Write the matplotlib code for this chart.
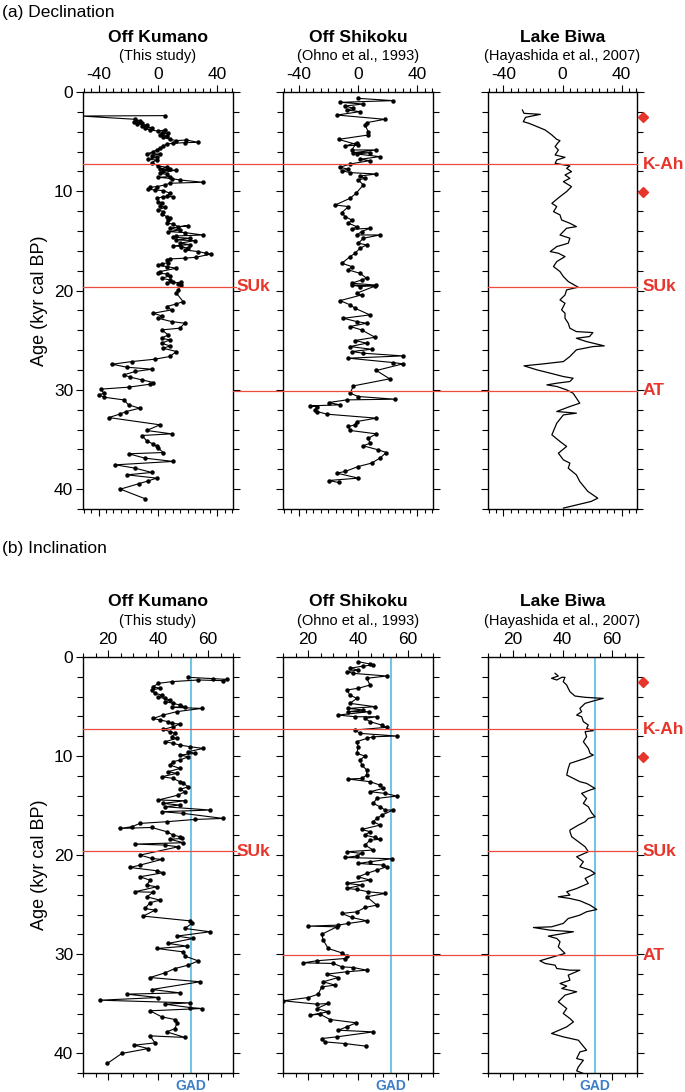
import matplotlib.pyplot as plt
import matplotlib.transforms as mtransforms
from matplotlib.lines import Line2D
from matplotlib.ticker import MultipleLocator

plt.rcParams['font.family'] = ['Liberation Sans', 'DejaVu Sans']
plt.rcParams['axes.unicode_minus'] = False

# ---- data: (value, age in kyr cal BP) ----
# Off Kumano declination
kum_dec_val = [4.7, -52, -15.3, -12.0, -16.4, -10.9, -14.2, -7.6, -10.9, -4.2, -8.7, -5.3, 0.2, 4.7, 2.4, 6.9,
               1.3, 5.8, 3.6, 8.0, 12.4, 19.1, 26.9, 18.0, 10.2, 5.8, 3.6, 1.3, -0.9, -3.1, -7.6, 1.3, -4.2,
               -0.9, -6.4, -0.9, -4.2, 0.2, 5.8, 1.3, 8.0, 3.6, 12.4, 1.3, 5.8, 8.0, 0.2, 9.1, 14.7, 30.2, 8.0,
               4.7, -0.9, -5.3, -6.4, -2.0, 3.6, 8.0, 5.8, 10.2, 3.6, -0.9, 0.2, 2.4, 1.3, 4.7, 0.2, 3.6, 2.4,
               5.8, 8.0, 6.9, 5.8, 10.2, 13.6, 20.2, 8.0, 14.7, 6.9, 18.0, 30.2, 12.4, 10.2, 21.3, 12.4, 24.7,
               14.7, 21.3, 10.2, 15.8, 20.2, 18.0, 26.9, 32.4, 35.8, 25.8, 18.0, 8.0, 5.8, 6.9, 2.4, 0.2, 5.8,
               12.4, 1.3, 0.2, 5.8, 8.0, 2.4, 8.0, 10.2, 5.8, 15.8, 13.6, 15.8, 13.6, 12.4, 16.9, 12.4, 5.8,
               9.1, -3.1, 2.4, 0.2, 9.1, 18.0, 14.7, 2.4, 6.9, 2.4, 8.0, 2.4, 8.0, 3.6, 12.4, 8.0, -2.0, -17.6,
               -30.9, -20.9, -4.2, -15.3, -23.1, -18.7, -10.9, -3.1, -5.3, -19.8, -38.7, -36.4, -39.8, -36.4,
               -23.1, -19.8, -12.4, -21.3, -25.3, -33.1, 1.3, -7.6, 9.1, -10.9, -7.6, -3.1, -0.9, 0.2, 3.6,
               -19.8, -8.7, 10.2, -28.7, -15.3, -4.2, -20.9, -0.9, -6.4, -13.1, -25.3, -8.7]
kum_dec_age = [2.38, 2.42, 2.75, 2.89, 3.02, 3.09, 3.22, 3.32, 3.42, 3.59, 3.66, 3.83, 3.93, 3.83, 4.09, 4.16,
               4.33, 4.43, 4.56, 4.77, 4.90, 4.83, 5.07, 5.10, 5.17, 5.23, 5.44, 5.67, 5.84, 6.01, 6.24, 6.24,
               6.44, 6.58, 6.78, 6.85, 7.11, 7.45, 7.58, 7.79, 7.79, 7.92, 7.85, 8.19, 8.29, 8.52, 8.59, 8.72,
               8.86, 9.09, 9.19, 9.36, 9.53, 9.60, 9.80, 9.87, 9.93, 10.20, 10.47, 10.54, 10.54, 10.70, 11.04,
               11.21, 11.48, 11.61, 11.88, 12.05, 12.28, 12.55, 12.72, 12.89, 13.22, 13.29, 13.56, 13.46, 13.72,
               13.89, 14.06, 14.16, 14.40, 14.50, 14.63, 14.73, 14.90, 14.97, 15.23, 15.37, 15.50, 15.57, 15.74,
               15.91, 16.07, 16.24, 16.31, 16.64, 16.74, 16.81, 16.91, 17.18, 17.32, 17.45, 17.58, 17.75, 18.09,
               18.26, 18.32, 18.52, 18.76, 18.93, 19.09, 19.26, 19.16, 19.30, 19.45, 19.93, 20.27, 21.11, 21.34,
               21.61, 21.95, 22.28, 22.55, 22.79, 23.12, 23.29, 23.79, 23.96, 24.46, 24.80, 24.97, 25.30, 25.57,
               25.81, 26.14, 26.64, 26.91, 27.15, 27.42, 27.72, 27.92, 28.15, 28.49, 28.72, 28.99, 29.26, 29.43,
               29.73, 29.93, 30.34, 30.50, 30.74, 31.01, 31.51, 31.85, 32.18, 32.42, 32.79, 33.52, 34.09, 34.43,
               34.60, 35.13, 35.47, 35.70, 35.87, 36.31, 36.44, 36.88, 37.21, 37.55, 37.89, 38.32, 38.56, 38.89,
               39.16, 39.46, 40.00, 40.97]

# Off Shikoku declination
shi_dec_val = [0.2, 23.6, -12.0, 3.6, -8.7, -3.1, -7.6, 1.3, -14.2, 18.0, 5.8, 4.7, 6.9, 6.9, -13.1, 0.2, -8.7,
               -0.9, -4.2, 12.4, -3.1, 8.0, -0.9, 14.7, 1.3, 8.0, -5.3, -12.0, -6.4, -10.9, -5.3, 12.4, 1.3, 4.7,
               0.2, 3.6, -1.3, -5.3, -15.3, -6.4, -10.9, -8.7, -4.2, -6.4, -0.9, -4.2, 8.0, 2.4, -0.9, 14.7, 3.6,
               0.2, 5.8, 1.3, -2.0, -5.3, -10.9, -4.2, -6.4, 1.3, 5.8, 2.4, -4.2, 12.4, 1.3, -4.2, 11.4, -0.9,
               2.4, -12.0, -5.3, -2.0, 8.0, -9.8, -0.9, 5.8, -5.3, 2.4, 11.4, -2.0, 5.8, -5.3, 9.1, -4.2, 3.6,
               30.2, -6.4, 23.6, 30.2, 12.4, 21.3, -3.1, -5.3, 0.2, 24.7, -7.6, -19.8, -12.0, -32.0, -27.6, -28.9,
               -27.6, -20.9, 12.4, -0.9, -2.0, -6.4, -5.3, 12.4, 6.9, 8.0, 3.6, 13.6, 19.1, 14.7, 9.1, 0.2, -8.7,
               -14.2, 0.2, -19.8, -13.1]
shi_dec_age = [0.64, 0.87, 1.04, 1.21, 1.41, 1.64, 1.81, 1.98, 2.32, 2.75, 3.09, 3.32, 3.99, 4.33, 4.77, 5.34,
               5.44, 5.10, 5.84, 5.84, 6.11, 6.11, 6.24, 6.51, 6.78, 6.91, 7.25, 7.58, 7.79, 7.92, 8.12, 8.26,
               8.46, 8.69, 8.86, 9.36, 10.20, 10.70, 11.38, 11.54, 12.15, 12.55, 12.89, 13.22, 13.56, 13.83,
               13.72, 14.06, 14.40, 14.40, 14.73, 15.23, 15.40, 15.74, 16.24, 16.58, 17.25, 17.58, 17.92, 18.26,
               18.76, 18.93, 19.26, 19.45, 19.60, 19.43, 19.55, 20.27, 20.44, 21.01, 21.44, 21.78, 22.45, 22.79,
               23.12, 23.29, 23.62, 23.96, 24.70, 25.03, 25.30, 25.64, 25.91, 26.14, 26.31, 26.58, 26.81, 27.25,
               27.38, 28.05, 28.89, 29.60, 30.34, 30.67, 30.94, 31.01, 31.28, 31.51, 31.61, 31.68, 32.01, 32.18,
               32.45, 32.85, 33.19, 33.52, 33.69, 34.09, 34.43, 34.87, 35.37, 35.64, 36.04, 36.31, 36.88, 37.38,
               37.72, 38.22, 38.39, 38.89, 39.13, 39.33]

# Lake Biwa declination
biw_dec_val = [-27.2, -26.1, -15.0, -25.0, -26.6, -22.8, -17.2, -11.7, -7.2, -3.9, -1.7, -3.4, -5.0, -2.8, -5.0,
               1.7, -3.9, -5.0, 5.0, 2.8, 6.1, 1.7, 5.0, 0.6, 6.1, 2.8, -1.7, -7.2, -3.9, -6.1, -1.7, -0.6, 5.0,
               9.4, 2.8, -1.7, 5.0, 3.9, -3.9, -8.3, -2.8, 1.7, -3.9, -6.1, -1.7, 0.6, 3.9, 10.6, 2.8, 1.7, -1.7,
               1.7, -0.6, 1.7, 1.7, 3.9, 5.0, 9.4, 20.6, 18.3, 9.4, 16.1, 28.3, 20.6, 9.4, 5.0, 0.6, -12.8, -26.1,
               -17.2, -8.3, 0.6, 7.2, 5.0, -3.9, -10.6, -3.9, 2.8, 7.2, 11.7, 5.0, -3.9, 9.4, 0.6, -3.9, -7.2,
               -1.7, 2.8, -2.8, 0.6, 5.0, 3.9, 9.4, 11.7, 17.2, 23.9, 19.4, 0.6]
biw_dec_age = [1.81, 2.15, 2.25, 2.55, 2.99, 3.15, 3.49, 3.83, 4.33, 4.77, 4.90, 5.17, 5.50, 5.84, 6.34, 6.58,
               6.85, 7.18, 7.45, 7.68, 8.02, 8.36, 8.69, 9.03, 9.53, 10.03, 10.54, 11.21, 11.54, 12.05, 12.38,
               12.89, 13.22, 13.56, 13.72, 14.40, 14.73, 15.23, 15.57, 16.07, 16.24, 16.58, 17.08, 17.58, 18.09,
               18.59, 19.09, 19.66, 19.93, 20.44, 20.94, 21.28, 21.95, 22.28, 22.79, 23.29, 23.79, 24.13, 24.23,
               24.63, 24.80, 25.13, 25.57, 25.64, 25.97, 26.64, 27.15, 27.38, 27.58, 27.99, 28.32, 28.66, 28.83,
               29.16, 29.33, 29.50, 29.66, 30.00, 30.34, 31.34, 31.68, 32.18, 32.35, 32.52, 33.36, 34.53, 35.20,
               35.70, 36.38, 37.05, 37.38, 37.89, 38.56, 39.23, 40.23, 40.91, 41.24, 41.91]

# Off Kumano inclination
kum_inc_val = [52.1, 61.9, 67.5, 66.1, 56.1, 45.5, 40.1, 38.1, 40.8, 37.5, 38.8, 41.5, 40.1, 42.8, 44.8, 42.8,
               46.1, 48.8, 50.8, 45.5, 57.5, 47.5, 42.1, 38.1, 40.8, 44.1, 45.5, 48.8, 46.1, 42.1, 44.8, 46.8,
               45.5, 47.5, 42.8, 46.1, 48.8, 52.8, 58.1, 52.1, 54.8, 48.8, 52.1, 48.8, 46.1, 44.8, 48.8, 44.1,
               47.5, 41.5, 46.1, 48.8, 50.1, 52.1, 48.8, 50.8, 48.1, 40.1, 50.8, 42.1, 48.8, 42.8, 60.8, 41.5,
               50.1, 66.1, 54.8, 43.5, 32.8, 29.5, 24.8, 37.5, 43.5, 46.1, 48.8, 49.5, 44.8, 50.1, 30.8, 42.8,
               48.1, 32.8, 37.5, 41.5, 32.8, 28.8, 39.5, 42.1, 32.8, 36.8, 35.5, 39.5, 30.8, 38.1, 35.5, 40.8,
               36.8, 34.8, 38.8, 34.1, 52.8, 53.5, 50.8, 60.8, 47.5, 54.1, 44.1, 51.5, 39.5, 50.1, 50.8, 56.1,
               52.1, 46.8, 42.8, 36.8, 56.8, 37.5, 48.8, 27.5, 40.1, 16.8, 52.8, 42.8, 52.8, 57.5, 36.8, 41.5,
               46.8, 47.5, 46.8, 43.5, 50.8, 36.8, 38.8, 30.5, 36.1, 25.5, 19.7]
kum_inc_age = [2.05, 2.19, 2.26, 2.39, 2.32, 2.49, 2.66, 3.00, 3.16, 3.33, 3.67, 3.84, 4.07, 4.18, 4.34, 4.51,
               4.68, 4.85, 5.02, 5.08, 5.19, 5.52, 5.86, 6.20, 6.36, 6.53, 6.70, 6.77, 7.04, 7.31, 7.54, 7.71,
               8.05, 8.22, 8.55, 8.72, 8.89, 9.06, 9.23, 9.56, 9.73, 9.90, 10.07, 10.40, 10.57, 10.91, 11.25,
               11.58, 11.75, 12.09, 12.26, 12.59, 12.76, 13.10, 13.37, 13.60, 13.94, 14.44, 14.51, 14.78, 14.95,
               15.12, 15.45, 15.62, 15.79, 16.30, 16.40, 16.63, 16.80, 17.14, 17.31, 17.21, 17.64, 17.98, 18.15,
               18.32, 18.40, 18.75, 18.89, 18.99, 19.16, 20.00, 20.34, 20.44, 21.01, 21.25, 21.58, 21.78, 22.19,
               22.53, 23.03, 23.20, 23.70, 23.75, 24.21, 24.55, 24.81, 25.39, 25.56, 26.16, 26.64, 26.90, 27.41,
               27.74, 28.18, 28.42, 28.92, 29.19, 29.43, 29.77, 30.20, 30.68, 31.11, 31.45, 31.89, 32.36, 32.79,
               33.57, 33.91, 34.04, 34.38, 34.65, 34.92, 35.05, 35.39, 35.49, 35.72, 36.33, 36.60, 37.00, 37.51,
               37.85, 38.41, 38.25, 38.96, 39.19, 39.53, 40.03, 41.04]

# Off Shikoku inclination
shi_inc_val = [40.1, 44.8, 46.1, 42.1, 36.8, 40.1, 35.5, 38.1, 51.5, 43.5, 44.8, 40.1, 35.5, 36.8, 39.5, 36.8,
               46.8, 36.1, 42.1, 36.1, 44.5, 32.1, 38.8, 47.5, 42.8, 44.8, 49.5, 51.5, 38.8, 40.8, 55.5, 46.1,
               43.5, 39.5, 40.1, 39.5, 42.8, 40.8, 41.5, 43.5, 43.5, 41.5, 36.1, 44.8, 48.8, 50.1, 44.8, 50.8,
               55.5, 47.5, 46.1, 48.8, 50.8, 54.1, 49.5, 47.5, 46.1, 48.8, 41.5, 44.8, 42.8, 46.8, 48.8, 44.8,
               42.8, 46.1, 35.5, 41.5, 39.5, 34.8, 53.5, 44.8, 40.1, 50.1, 51.5, 47.5, 43.5, 40.1, 44.8, 35.5,
               41.5, 35.5, 39.5, 44.1, 50.8, 43.5, 47.5, 42.8, 39.5, 33.5, 37.5, 43.5, 36.1, 32.1, 20.1, 31.5,
               25.5, 26.1, 28.1, 33.5, 35.7, 34.8, 23.5, 18.1, 30.1, 33.5, 38.1, 43.5, 35.5, 27.5, 32.1, 26.1,
               30.8, 25.5, 24.1, 20.1, 10.1, 23.5, 28.1, 23.5, 28.1, 20.8, 24.8, 28.8, 39.3, 35.5, 32.1, 46.1,
               31.5, 25.5, 26.8, 34.8, 43.2]
shi_inc_age = [0.47, 0.71, 0.81, 0.91, 1.14, 1.31, 1.48, 1.65, 1.92, 2.15, 2.83, 3.16, 3.33, 3.84, 4.18, 4.68,
               5.02, 5.19, 5.35, 5.52, 5.52, 5.86, 6.03, 6.03, 6.20, 6.53, 6.87, 7.10, 7.37, 7.71, 7.98, 8.05,
               8.22, 8.55, 9.06, 9.73, 10.00, 10.40, 10.91, 11.41, 11.92, 12.26, 12.32, 12.59, 12.93, 13.27,
               13.60, 13.77, 14.04, 14.28, 14.78, 15.12, 15.45, 15.45, 15.96, 16.30, 16.63, 16.97, 17.41, 17.64,
               17.98, 18.22, 18.40, 18.50, 18.99, 19.49, 19.66, 19.83, 20.10, 20.24, 20.37, 20.67, 20.84, 21.01,
               21.18, 21.52, 21.85, 22.19, 22.53, 22.86, 23.03, 23.37, 23.47, 23.70, 23.87, 24.21, 25.05, 25.29,
               25.73, 25.89, 26.30, 26.63, 26.90, 27.07, 27.17, 27.24, 28.00, 28.59, 29.43, 29.87, 30.20, 30.44,
               30.67, 30.88, 30.94, 31.28, 31.35, 31.62, 31.78, 32.02, 32.36, 32.79, 33.13, 33.30, 34.04, 34.38,
               34.71, 35.05, 34.98, 35.49, 35.82, 36.16, 36.06, 36.60, 36.93, 37.34, 37.68, 37.85, 38.35, 38.52,
               38.86, 39.03, 39.29]

# Lake Biwa inclination
biw_inc_val = [37.0, 38.3, 35.6, 37.7, 39.7, 41.0, 40.3, 41.7, 42.3, 43.0, 45.0, 49.1, 56.4, 52.4, 49.1, 47.0,
               47.7, 45.7, 47.7, 48.4, 50.4, 49.7, 52.4, 49.1, 49.7, 48.4, 50.4, 51.1, 52.4, 49.1, 43.0, 42.3,
               41.7, 44.4, 47.0, 49.7, 53.1, 51.1, 47.7, 49.7, 48.4, 50.4, 51.7, 53.1, 50.4, 49.1, 46.4, 43.0,
               43.0, 43.7, 46.4, 49.1, 50.4, 45.7, 48.4, 47.0, 51.1, 53.1, 49.1, 50.4, 45.7, 41.7, 43.0, 38.3,
               43.0, 47.0, 51.1, 53.8, 49.7, 47.0, 42.3, 40.3, 35.6, 28.3, 35.0, 44.4, 34.3, 37.7, 39.0, 38.3,
               41.0, 36.3, 30.9, 33.0, 37.0, 37.7, 43.0, 47.0, 42.3, 43.0, 39.0, 41.7, 39.7, 45.7, 41.0, 38.3,
               41.7, 40.3, 43.0, 44.4, 41.7, 35.6, 40.3, 46.4, 49.7, 47.0, 45.7, 48.4, 46.4, 45.7, 48.4]
biw_inc_age = [1.65, 1.92, 2.15, 2.32, 2.05, 2.05, 2.49, 2.83, 3.16, 3.50, 3.94, 4.07, 4.18, 4.44, 4.68, 5.19,
               5.52, 5.86, 6.03, 6.53, 6.87, 7.21, 7.44, 7.54, 8.05, 8.55, 9.23, 9.73, 9.90, 10.24, 10.74, 11.25,
               11.92, 12.26, 12.59, 12.76, 13.27, 13.43, 13.77, 14.28, 14.78, 15.12, 15.72, 16.13, 16.30, 16.63,
               16.97, 17.47, 17.64, 18.15, 18.65, 19.16, 19.66, 20.17, 20.67, 21.18, 21.51, 21.85, 22.36, 22.86,
               23.37, 23.70, 24.04, 24.21, 24.38, 24.61, 25.05, 25.49, 25.72, 26.06, 26.40, 26.90, 27.24, 27.31,
               27.58, 27.74, 28.18, 28.42, 28.75, 29.26, 29.93, 30.27, 30.67, 30.94, 31.11, 31.45, 31.62, 31.62,
               32.12, 32.63, 32.96, 33.23, 33.47, 33.80, 34.14, 34.81, 35.49, 35.99, 36.50, 36.84, 37.34, 38.01,
               38.35, 38.69, 39.70, 39.87, 40.54, 40.71, 41.38, 41.78, 42.05]

site_names = ["Off Kumano", "Off Shikoku", "Lake Biwa"]
site_refs = ["(This study)", "(Ohno et al., 1993)", "(Hayashida et al., 2007)"]
tephra_ages = {"K-Ah": 7.3, "SUk": 19.6, "AT": 30.1}
diamond_ages = [2.5, 10.1]
gad_inc = 53

RED = '#e8352b'
LINE_RED = '#ee4b40'
BLUE_LINE = '#49b4e2'
BLUE_TEXT = '#3d7fc6'

fig = plt.figure(figsize=(6.85, 10.92), dpi=100)
W, H = 685.0, 1092.0
lefts = [83, 283, 488]
widths = [150, 150, 149]


def make_row(top_px, bottom_px, kind):
    axes = []
    for i in range(3):
        ax = fig.add_axes([lefts[i] / W, 1 - bottom_px / H, widths[i] / W, (bottom_px - top_px) / H])
        ax.set_ylim(42, 0)
        if kind == 'dec':
            ax.set_xlim(-50.5, 50.5)
            ax.xaxis.set_major_locator(MultipleLocator(40))
            ax.xaxis.set_minor_locator(MultipleLocator(5))
        else:
            ax.set_xlim(10, 70)
            ax.xaxis.set_major_locator(MultipleLocator(20))
            ax.xaxis.set_minor_locator(MultipleLocator(5))
        ax.yaxis.set_major_locator(MultipleLocator(10))
        ax.yaxis.set_minor_locator(MultipleLocator(2))
        ax.tick_params(which='both', direction='out', top=True, bottom=True, left=True, right=True,
                       labeltop=True, labelbottom=False, labelleft=(i == 0), width=0.8, labelsize=12.5, pad=2)
        ax.tick_params(which='major', length=5)
        ax.tick_params(which='minor', length=3)
        ax.tick_params(axis='y', which='minor', length=4)
        for sp in ax.spines.values():
            sp.set_linewidth(1.0)
        ax.text(0.5, 1.0 + 55 / (bottom_px - top_px), site_names[i], transform=ax.transAxes,
                ha='center', va='center', fontsize=12.6, fontweight='bold')
        ax.text(0.5, 1.0 + 36 / (bottom_px - top_px), site_refs[i], transform=ax.transAxes,
                ha='center', va='center', fontsize=10.5)
        axes.append(ax)
    axes[0].set_ylabel("Age (kyr cal BP)", fontsize=13, labelpad=4)
    return axes


top_axes = make_row(92, 509, 'dec')
bot_axes = make_row(657, 1073, 'inc')

# data series
top_axes[0].plot(kum_dec_val, kum_dec_age, '-o', color='black', lw=0.8, ms=2.2)
top_axes[1].plot(shi_dec_val, shi_dec_age, '-o', color='black', lw=0.8, ms=2.2)
top_axes[2].plot(biw_dec_val, biw_dec_age, '-', color='black', lw=0.9)
bot_axes[0].plot(kum_inc_val, kum_inc_age, '-o', color='black', lw=0.8, ms=2.2)
bot_axes[1].plot(shi_inc_val, shi_inc_age, '-o', color='black', lw=0.8, ms=2.2)
bot_axes[2].plot(biw_inc_val, biw_inc_age, '-', color='black', lw=0.9)

# GAD lines
for ax in bot_axes:
    ax.axvline(gad_inc, color=BLUE_LINE, lw=1.1, zorder=1)
    ax.text(gad_inc, 42.6, "GAD", color=BLUE_TEXT, fontsize=10, fontweight='bold', ha='center', va='top')

# tephra lines spanning panels (pixel x extents) per row
row_spans = [
    {"K-Ah": [(83, 637)], "SUk": [(83, 236), (488, 637)], "AT": [(233, 637)]},
    {"K-Ah": [(83, 637)], "SUk": [(83, 236), (488, 637)], "AT": [(283, 637)]},
]
for axes, spans in zip((top_axes, bot_axes), row_spans):
    tr = mtransforms.blended_transform_factory(fig.transFigure, axes[0].transData)
    for name, age in tephra_ages.items():
        for x0, x1 in spans[name]:
            fig.add_artist(Line2D([x0 / W, x1 / W], [age, age], transform=tr, color=LINE_RED, lw=0.9,
                                  clip_on=False, zorder=5))
        fig.text(643 / W, 0, name, transform=tr, color=RED, fontsize=12.5, fontweight='bold',
                 ha='left', va='center').set_y(age)
    fig.text(237 / W, 0, "SUk", transform=tr, color=RED, fontsize=12.5, fontweight='bold',
             ha='left', va='center').set_y(tephra_ages["SUk"])
    for a in diamond_ages:
        fig.add_artist(Line2D([643 / W], [a], transform=tr, marker='D', color=RED, ms=5.5,
                              clip_on=False))

fig.text(2 / W, 1 - 12 / H, "(a) Declination", fontsize=12.5, ha='left', va='center')
fig.text(2 / W, 1 - 549 / H, "(b) Inclination", fontsize=12.5, ha='left', va='center')

fig.savefig("out.png", dpi=100)
